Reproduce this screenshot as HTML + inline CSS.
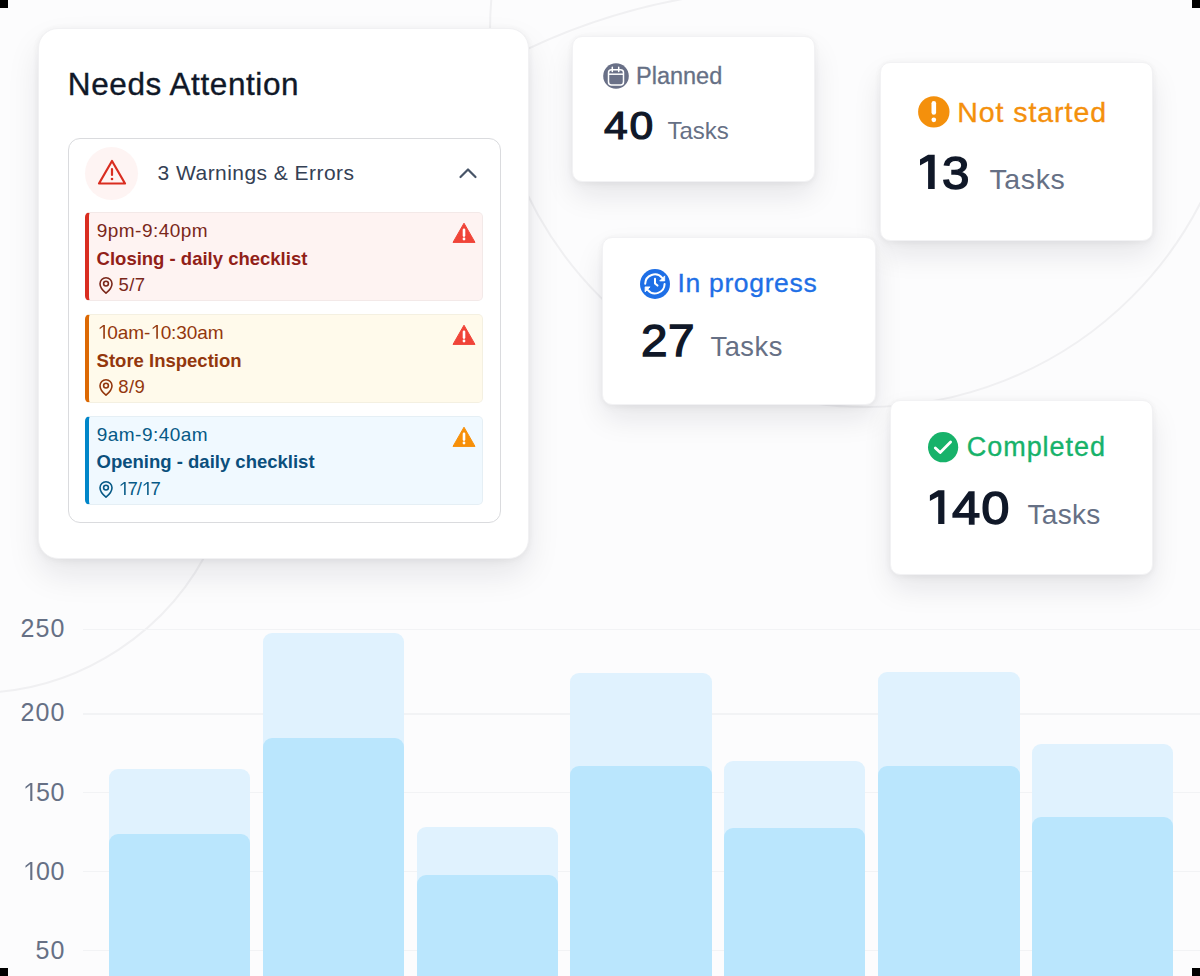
<!DOCTYPE html>
<html><head><meta charset="utf-8"><title>Needs Attention</title>
<style>
*{box-sizing:border-box;margin:0;padding:0}
html,body{width:1200px;height:976px;overflow:hidden}
body{position:relative;background:#fcfcfd;font-family:"Liberation Sans", sans-serif;}
.t{position:absolute;line-height:1;white-space:nowrap}
.abs{position:absolute}
.card{position:absolute;background:#fff;border-radius:10px;border:1px solid #f2f2f4;box-shadow:0 14px 30px -2px rgba(16,24,40,0.10),0 3px 8px rgba(16,24,40,0.03),0 0 6px rgba(16,24,40,0.035);}
.bar{position:absolute;border-radius:9px 9px 0 0}
.grid{position:absolute;left:83px;width:1117px;height:1.6px;background:#f2f3f5}
</style></head>
<body>
<svg class="abs" style="left:0;top:0" width="1200" height="976" viewBox="0 0 1200 976"><g fill="none" stroke="#f0f0f2" stroke-width="2"><circle cx="866" cy="31" r="376"/><path d="M 470 80 A 633 633 0 0 1 700 -4"/><path d="M 212.9 540 A 263 263 0 0 1 -20 692.9"/></g></svg>
<div class="grid" style="top:628.7px"></div>
<div class="grid" style="top:713.1px"></div>
<div class="grid" style="top:791.9px"></div>
<div class="grid" style="top:870.5px"></div>
<div class="grid" style="top:949.9px"></div>
<div class="bar" style="left:109.3px;width:140.8px;top:769.3px;height:216.7px;background:#e0f2fe"></div>
<div class="bar" style="left:109.3px;width:140.8px;top:834.1px;height:151.9px;background:#bae6fd"></div>
<div class="bar" style="left:263.2px;width:140.8px;top:633.3px;height:352.7px;background:#e0f2fe"></div>
<div class="bar" style="left:263.2px;width:140.8px;top:738.3px;height:247.7px;background:#bae6fd"></div>
<div class="bar" style="left:416.5px;width:141.4px;top:826.5px;height:159.5px;background:#e0f2fe"></div>
<div class="bar" style="left:416.5px;width:141.4px;top:874.8px;height:111.2px;background:#bae6fd"></div>
<div class="bar" style="left:570.1px;width:141.7px;top:672.7px;height:313.3px;background:#e0f2fe"></div>
<div class="bar" style="left:570.1px;width:141.7px;top:766px;height:220.0px;background:#bae6fd"></div>
<div class="bar" style="left:724.2px;width:141.2px;top:760.8px;height:225.2px;background:#e0f2fe"></div>
<div class="bar" style="left:724.2px;width:141.2px;top:828.3px;height:157.7px;background:#bae6fd"></div>
<div class="bar" style="left:878.3px;width:141.3px;top:672.1px;height:313.9px;background:#e0f2fe"></div>
<div class="bar" style="left:878.3px;width:141.3px;top:765.8px;height:220.2px;background:#bae6fd"></div>
<div class="bar" style="left:1032px;width:141.3px;top:744.2px;height:241.8px;background:#e0f2fe"></div>
<div class="bar" style="left:1032px;width:141.3px;top:816.7px;height:169.3px;background:#bae6fd"></div>
<div class="abs" style="left:38px;top:28px;width:491px;height:530.5px;background:#fff;border-radius:20px;border:1px solid #f1f1f3;box-shadow:0 16px 34px -2px rgba(16,24,40,0.10),0 3px 10px rgba(16,24,40,0.03),0 0 6px rgba(16,24,40,0.035)"></div>
<div class="abs" style="left:67.5px;top:137.5px;width:433.5px;height:385px;border:1.5px solid #dadbde;border-radius:12px"></div>
<div class="abs" style="left:85px;top:146.8px;width:53px;height:53px;border-radius:50%;background:#fef4f3"></div>
<svg class="abs" style="left:96px;top:158px" width="32" height="28" viewBox="0 0 32 28"><path d="M16 3 L29 25.5 L3 25.5 Z" fill="none" stroke="#d92d20" stroke-width="2.2" stroke-linejoin="round"/><path d="M16 11 V17" stroke="#d92d20" stroke-width="2.2" stroke-linecap="round"/><circle cx="16" cy="21" r="1.3" fill="#d92d20"/></svg>
<svg class="abs" style="left:456px;top:164px" width="24" height="18" viewBox="0 0 24 18"><path d="M4.5 13 L12 5.5 L19.5 13" fill="none" stroke="#475467" stroke-width="2.2" stroke-linecap="round" stroke-linejoin="round"/></svg>
<div class="abs" style="left:85px;top:212.2px;width:397.5px;height:89px;background:#fef3f2;border-radius:5px;border:1px solid rgba(16,24,40,0.045);border-left:4px solid #d92d20"></div>
<svg class="abs" style="left:97px;top:275.7px" width="18" height="19" viewBox="0 0 18 19"><path d="M9 17.2 C9 17.2 15 12.2 15 7.7 A6 6 0 0 0 3 7.7 C3 12.2 9 17.2 9 17.2 Z" fill="none" stroke="#7a271a" stroke-width="1.6" stroke-linejoin="round"/><circle cx="9" cy="7.6" r="2.4" fill="none" stroke="#7a271a" stroke-width="1.6"/></svg>
<svg class="abs" style="left:452px;top:221.7px" width="24" height="22" viewBox="0 0 24 22"><path d="M12 1.2 L23 20.4 L1 20.4 Z" fill="#f04438" stroke="#f04438" stroke-width="1" stroke-linejoin="round"/><path d="M12 7.8 V13.6" stroke="#fff" stroke-width="2.6" stroke-linecap="round"/><circle cx="12" cy="17" r="1.4" fill="#fff"/></svg>
<div class="abs" style="left:85px;top:314.3px;width:397.5px;height:89px;background:#fffaeb;border-radius:5px;border:1px solid rgba(16,24,40,0.045);border-left:4px solid #dc6803"></div>
<svg class="abs" style="left:97px;top:377.8px" width="18" height="19" viewBox="0 0 18 19"><path d="M9 17.2 C9 17.2 15 12.2 15 7.7 A6 6 0 0 0 3 7.7 C3 12.2 9 17.2 9 17.2 Z" fill="none" stroke="#93370d" stroke-width="1.6" stroke-linejoin="round"/><circle cx="9" cy="7.6" r="2.4" fill="none" stroke="#93370d" stroke-width="1.6"/></svg>
<svg class="abs" style="left:452px;top:323.8px" width="24" height="22" viewBox="0 0 24 22"><path d="M12 1.2 L23 20.4 L1 20.4 Z" fill="#f04438" stroke="#f04438" stroke-width="1" stroke-linejoin="round"/><path d="M12 7.8 V13.6" stroke="#fff" stroke-width="2.6" stroke-linecap="round"/><circle cx="12" cy="17" r="1.4" fill="#fff"/></svg>
<div class="abs" style="left:85px;top:416.3px;width:397.5px;height:89px;background:#f0f9ff;border-radius:5px;border:1px solid rgba(16,24,40,0.045);border-left:4px solid #0086c9"></div>
<svg class="abs" style="left:97px;top:479.8px" width="18" height="19" viewBox="0 0 18 19"><path d="M9 17.2 C9 17.2 15 12.2 15 7.7 A6 6 0 0 0 3 7.7 C3 12.2 9 17.2 9 17.2 Z" fill="none" stroke="#065986" stroke-width="1.6" stroke-linejoin="round"/><circle cx="9" cy="7.6" r="2.4" fill="none" stroke="#065986" stroke-width="1.6"/></svg>
<svg class="abs" style="left:452px;top:425.8px" width="24" height="22" viewBox="0 0 24 22"><path d="M12 1.2 L23 20.4 L1 20.4 Z" fill="#f79009" stroke="#f79009" stroke-width="1" stroke-linejoin="round"/><path d="M12 7.8 V13.6" stroke="#fff" stroke-width="2.6" stroke-linecap="round"/><circle cx="12" cy="17" r="1.4" fill="#fff"/></svg>
<div class="card" style="left:571.5px;top:35.5px;width:243.5px;height:146.0px"></div>
<div class="card" style="left:879.5px;top:62.3px;width:273.0px;height:178.4px"></div>
<div class="card" style="left:602.3px;top:236.7px;width:274.0px;height:168.6px"></div>
<div class="card" style="left:890.3px;top:399.8px;width:262.7px;height:175.5px"></div>
<svg class="abs" style="left:603.3px;top:63px" width="26" height="26" viewBox="0 0 26 26"><circle cx="13" cy="13" r="12.8" fill="#697087"/><rect x="5.5" y="6.8" width="15" height="15.2" rx="3" fill="none" stroke="#fff" stroke-width="1.5"/><path d="M5.5 11.2 H20.5" stroke="#fff" stroke-width="1.5"/><path d="M9.3 4.3 V8.5 M15.7 4.3 V8.5" stroke="#fff" stroke-width="1.5" stroke-linecap="round"/></svg>
<svg class="abs" style="left:917.8px;top:95.9px" width="32" height="32" viewBox="0 0 32 32"><circle cx="15.8" cy="15.9" r="15.7" fill="#f4900c"/><path d="M15.8 7.2 V16.4" stroke="#fff" stroke-width="4.6" stroke-linecap="round"/><circle cx="15.8" cy="23.8" r="2.35" fill="#fff"/></svg>
<svg class="abs" style="left:640px;top:268.5px" width="30" height="30" viewBox="0 0 30 30"><circle cx="15" cy="15" r="15" fill="#1e6fe6"/><path d="M5.2 14.8 A9.6 9.6 0 0 1 22.2 8.9" fill="none" stroke="#fff" stroke-width="2" stroke-linecap="round"/><path d="M24.7 6.9 L24.7 11.9 L19.7 11.9 Z" fill="#fff" stroke="#fff" stroke-width="0.8" stroke-linejoin="round"/><path d="M24.6 15.0 A9.6 9.6 0 0 1 7.6 20.9" fill="none" stroke="#fff" stroke-width="2" stroke-linecap="round"/><path d="M5.1 22.9 L5.1 17.9 L10.1 17.9 Z" fill="#fff" stroke="#fff" stroke-width="0.8" stroke-linejoin="round"/><path d="M15 9.7 V14.4 L17.5 16.6" fill="none" stroke="#fff" stroke-width="2" stroke-linecap="round" stroke-linejoin="round"/></svg>
<svg class="abs" style="left:927.8px;top:431.9px" width="31" height="31" viewBox="0 0 31 31"><circle cx="15.1" cy="15.2" r="15.1" fill="#17b26a"/><path d="M7.3 15.9 L12.2 20.6 L22.6 9.9" fill="none" stroke="#fff" stroke-width="2.8" stroke-linecap="round" stroke-linejoin="round"/></svg>
<div class="t" style="left:67.80px;top:69px;font-size:31.5px;color:#101828;letter-spacing:0.6px;-webkit-text-stroke:0.35px #101828;">Needs Attention</div>
<div class="t" style="left:157.60px;top:162px;font-size:21px;color:#344054;letter-spacing:0.45px;">3 Warnings &amp; Errors</div>
<div class="t" style="left:96.80px;top:221px;font-size:19px;color:#7a271a;letter-spacing:0.45px;">9pm-9:40pm</div>
<div class="t" style="left:96.60px;top:250px;font-size:18.5px;color:#912018;font-weight:700;">Closing - daily checklist</div>
<div class="t" style="left:118.50px;top:276px;font-size:18.5px;color:#7a271a;letter-spacing:0.4px;">5/7</div>
<div class="t" style="left:96.80px;top:323px;font-size:19px;color:#93370d;letter-spacing:-0.1px;"><svg style="width:0.556em;height:0.72em;vertical-align:baseline;margin-right:-0.1px;" viewBox="0 0 556 720"><path d="M330 0 H415 V720 H330 V82 L140 228 V148 Z" fill="currentColor"/></svg>0am-<svg style="width:0.556em;height:0.72em;vertical-align:baseline;margin-right:-0.1px;" viewBox="0 0 556 720"><path d="M330 0 H415 V720 H330 V82 L140 228 V148 Z" fill="currentColor"/></svg>0:30am</div>
<div class="t" style="left:96.60px;top:352px;font-size:18.5px;color:#93370d;font-weight:700;">Store Inspection</div>
<div class="t" style="left:118.20px;top:378px;font-size:18.5px;color:#93370d;letter-spacing:0.5px;">8/9</div>
<div class="t" style="left:96.80px;top:425px;font-size:19px;color:#065986;letter-spacing:0.45px;">9am-9:40am</div>
<div class="t" style="left:96.60px;top:453px;font-size:18.5px;color:#0b4f7c;font-weight:700;">Opening - daily checklist</div>
<div class="t" style="left:118.00px;top:480px;font-size:18.5px;color:#065986;letter-spacing:-0.9px;"><svg style="width:0.556em;height:0.72em;vertical-align:baseline;margin-right:-0.9px;" viewBox="0 0 556 720"><path d="M330 0 H415 V720 H330 V82 L140 228 V148 Z" fill="currentColor"/></svg>7/<svg style="width:0.556em;height:0.72em;vertical-align:baseline;margin-right:-0.9px;" viewBox="0 0 556 720"><path d="M330 0 H415 V720 H330 V82 L140 228 V148 Z" fill="currentColor"/></svg>7</div>
<div class="t" style="left:636.00px;top:65px;font-size:23.5px;color:#667085;-webkit-text-stroke:0.3px #667085;">Planned</div>
<div class="t" style="left:604.00px;top:107px;font-size:38.8px;color:#101828;letter-spacing:1.5px;-webkit-text-stroke:1.2px #101828;transform:scaleX(1.1);transform-origin:0 0;">40</div>
<div class="t" style="left:667.50px;top:119px;font-size:24px;color:#667085;">Tasks</div>
<div class="t" style="left:957.20px;top:98px;font-size:28.5px;color:#f4900c;letter-spacing:0.95px;-webkit-text-stroke:0.35px #f4900c;">Not started</div>
<div class="t" style="left:942.40px;top:149px;font-size:47px;color:#101828;-webkit-text-stroke:1.45px #101828;transform:scaleX(1.05);transform-origin:0 0;">3</div>
<div class="t" style="left:989.50px;top:165px;font-size:28.5px;color:#667085;letter-spacing:0.6px;">Tasks</div>
<div class="t" style="left:677.60px;top:270px;font-size:26.5px;color:#1e6fe6;letter-spacing:0.65px;-webkit-text-stroke:0.35px #1e6fe6;">In progress</div>
<div class="t" style="left:641.20px;top:319px;font-size:44.5px;color:#101828;letter-spacing:0.5px;-webkit-text-stroke:1.35px #101828;transform:scaleX(1.07);transform-origin:0 0;">27</div>
<div class="t" style="left:710.50px;top:333px;font-size:27.3px;color:#667085;letter-spacing:0.5px;">Tasks</div>
<div class="t" style="left:966.80px;top:434px;font-size:27px;color:#17b26a;letter-spacing:0.95px;-webkit-text-stroke:0.35px #17b26a;">Completed</div>
<div class="t" style="left:951.50px;top:484px;font-size:47px;color:#101828;letter-spacing:1.0px;-webkit-text-stroke:1.45px #101828;transform:scaleX(1.08);transform-origin:0 0;">40</div>
<div class="t" style="left:1027.50px;top:501px;font-size:28px;color:#667085;letter-spacing:0.3px;">Tasks</div>
<div class="t" style="right:1135.5px;top:616px;font-size:25px;color:#667085;letter-spacing:1.2px;margin-right:-1.2px">250</div>
<div class="t" style="right:1135.5px;top:700px;font-size:25px;color:#667085;letter-spacing:1.2px;margin-right:-1.2px">200</div>
<div class="t" style="right:1135.5px;top:780px;font-size:25px;color:#667085;letter-spacing:0.6px;margin-right:-0.6px"><svg style="width:0.556em;height:0.72em;vertical-align:baseline;margin-right:0.6px;" viewBox="0 0 556 720"><path d="M330 0 H415 V720 H330 V82 L140 228 V148 Z" fill="currentColor"/></svg>50</div>
<div class="t" style="right:1135.5px;top:859px;font-size:25px;color:#667085;letter-spacing:0.6px;margin-right:-0.6px"><svg style="width:0.556em;height:0.72em;vertical-align:baseline;margin-right:0.6px;" viewBox="0 0 556 720"><path d="M330 0 H415 V720 H330 V82 L140 228 V148 Z" fill="currentColor"/></svg>00</div>
<div class="t" style="right:1135.5px;top:938px;font-size:25px;color:#667085;letter-spacing:1.2px;margin-right:-1.2px">50</div>
<svg class="abs" style="left:0;top:0" width="1200" height="976" viewBox="0 0 1200 976"><g fill="#101828"><path d="M928.1 154.8 H934.7 V188.9 H928.1 V161.0 L920.0 165.6 V159.6 Z"/><path d="M938.2 490.2 H944.4 V524 H938.2 V496.4 L929.9 501.0 V495.2 Z"/></g></svg>
<div class="abs" style="left:0px;top:0px;width:8px;height:8px;background:#000"></div>
<div class="abs" style="left:1192px;top:0px;width:8px;height:8px;background:#000"></div>
<div class="abs" style="left:0px;top:968px;width:8px;height:8px;background:#000"></div>
<div class="abs" style="left:1192px;top:968px;width:8px;height:8px;background:#000"></div>
</body></html>
